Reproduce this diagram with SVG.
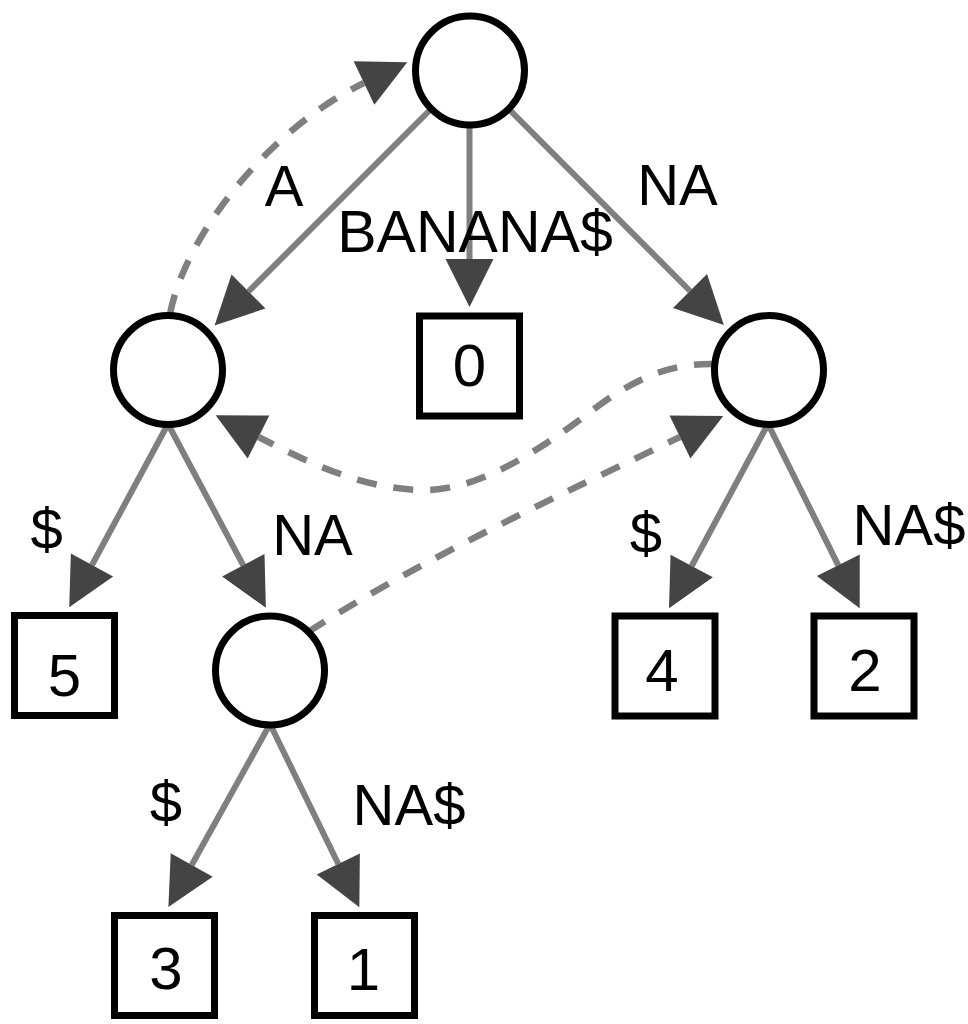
<svg xmlns="http://www.w3.org/2000/svg" width="968" height="1024" viewBox="0 0 968 1024">
<defs>
<style>
.edge{fill:none;stroke:#7f7f7f;stroke-width:6;marker-end:url(#arr)}
.link{fill:none;stroke:#7f7f7f;stroke-width:6.5;stroke-dasharray:20 17;marker-end:url(#arr)}
.inner{fill:#fff;stroke:#000;stroke-width:7}
.leaf{fill:#fff;stroke:#000;stroke-width:7}
text{font-family:"Liberation Sans",Arial,sans-serif;font-size:58px;fill:#000;text-anchor:middle}
.num{font-size:60px}
</style>
<marker id="arr" markerUnits="userSpaceOnUse" markerWidth="48" markerHeight="48" refX="0" refY="24" orient="auto" overflow="visible">
<path d="M0,0 L48,24 L0,48 z" fill="#444"/>
</marker>
</defs>
<rect width="968" height="1024" fill="#fff"/>
<g id="connectors">
<path class="edge" d="M470,70 L248.5,291.5"/>
<path class="edge" d="M469.5,70 L469.5,259"/>
<path class="edge" d="M470,70 L690,291"/>
<path class="edge" d="M168,424 L92,565"/>
<path class="edge" d="M168,424 L243.3,565.3"/>
<path class="edge" d="M768,424 L691.7,566"/>
<path class="edge" d="M768,424 L838.3,565.3"/>
<path class="edge" d="M270,724 L191.7,865"/>
<path class="edge" d="M270,724 L338.3,864"/>
<path class="link" d="M170,314 C185,235 270,128 364,83"/>
<path class="link" d="M714,364 C665,363 630,382 590,412 C540,450 480,490 425,490 C360,490 300,458 258.5,437"/>
<path class="link" d="M308,632 C420,560 560,495 680,437"/>
<text x="284" y="206">A</text>
<text x="475" y="252" style="font-size:59px">BANANA$</text>
<text x="677.5" y="205">NA</text>
<text x="46.7" y="549">$</text>
<text x="312.5" y="555">NA</text>
<text x="646" y="553">$</text>
<text x="909" y="545">NA$</text>
<text x="166" y="822">$</text>
<text x="409" y="825">NA$</text>
</g>
<g id="root"><circle class="inner" cx="470" cy="70.5" r="54.5"/></g>
<g id="nodeA"><circle class="inner" cx="168" cy="370" r="54.5"/></g>
<g id="nodeNA"><circle class="inner" cx="769" cy="370" r="54.5"/></g>
<g id="nodeANA"><circle class="inner" cx="270" cy="670.5" r="54.5"/></g>
<g id="leaf0"><rect class="leaf" x="419.5" y="316" width="100" height="100"/><text class="num" x="469.5" y="386">0</text></g>
<g id="leaf5"><rect class="leaf" x="14.5" y="615.5" width="100" height="100"/><text class="num" x="64.5" y="696">5</text></g>
<g id="leaf4"><rect class="leaf" x="615" y="616" width="100" height="100"/><text class="num" x="662" y="691">4</text></g>
<g id="leaf2"><rect class="leaf" x="814" y="616" width="100" height="100"/><text class="num" x="865" y="691">2</text></g>
<g id="leaf3"><rect class="leaf" x="114.5" y="915.5" width="100" height="100"/><text class="num" x="166" y="989">3</text></g>
<g id="leaf1"><rect class="leaf" x="314.5" y="915.5" width="100" height="100"/><text class="num" x="363.5" y="990">1</text></g>
</svg>
